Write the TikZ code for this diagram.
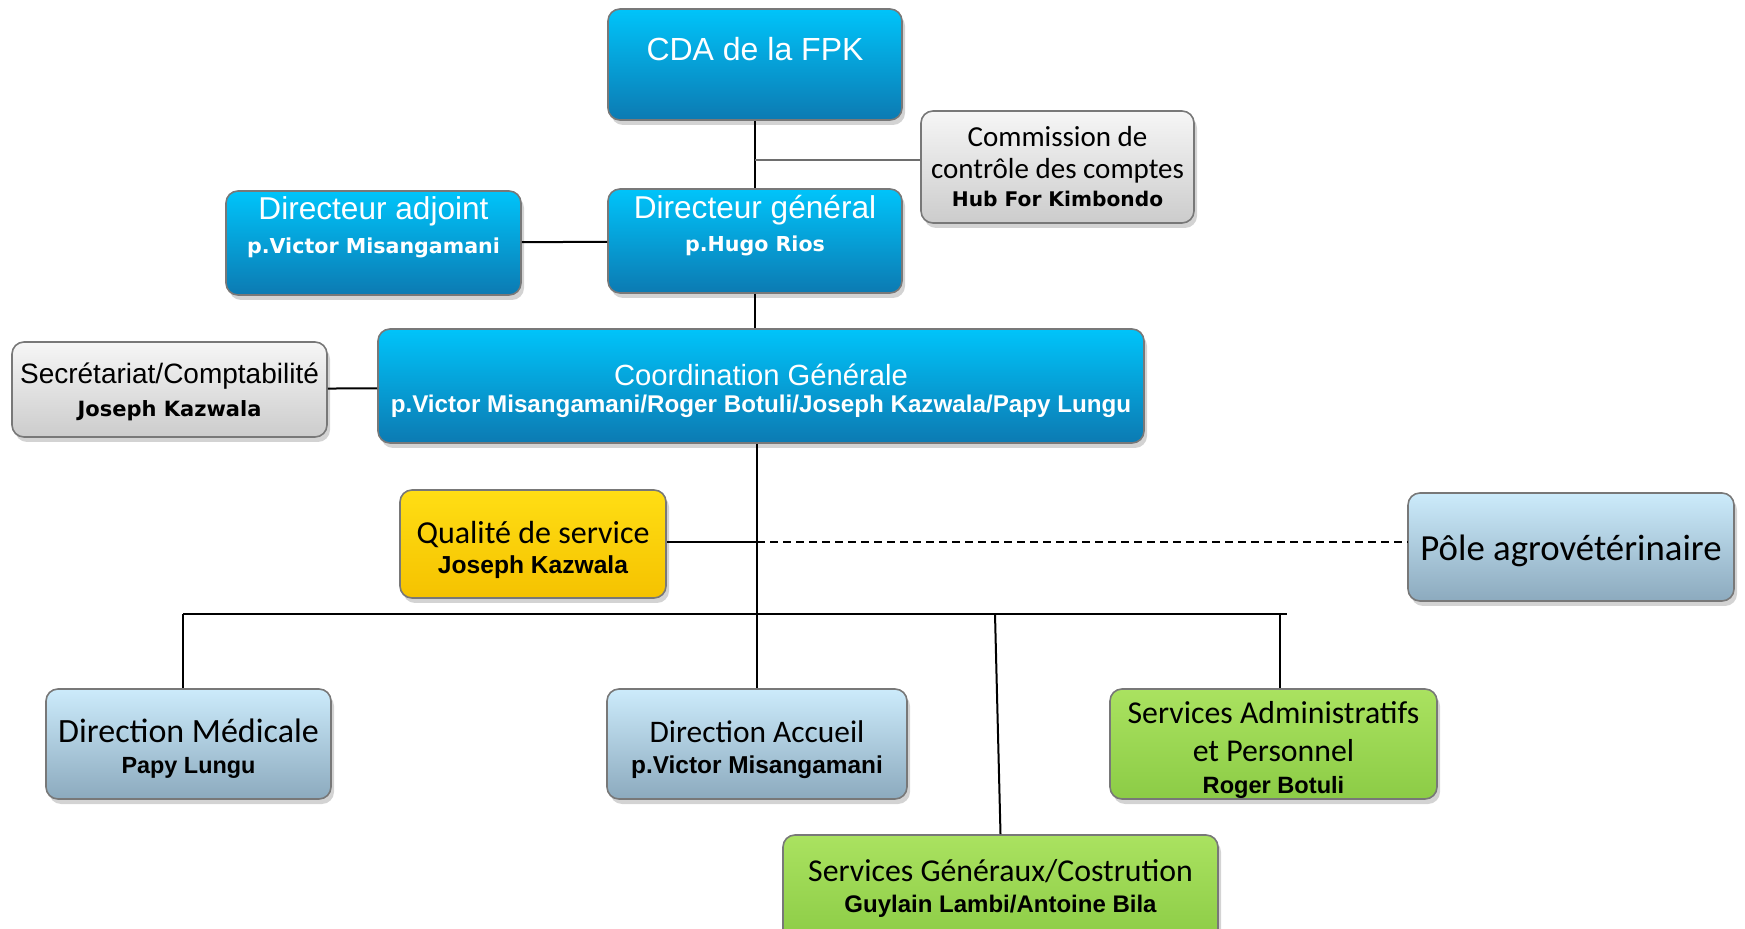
\documentclass[tikz,border=0pt]{standalone}
\usepackage{fontspec}
\setmainfont{Carlito}
\newfontfamily\arialf{Liberation Sans}
\newfontfamily\blackf{DejaVu Sans}
\usetikzlibrary{shadows}

\definecolor{bluetop}{RGB}{0,196,250}
\definecolor{bluebot}{RGB}{12,122,178}
\definecolor{greytop}{RGB}{246,246,246}
\definecolor{greybot}{RGB}{204,204,204}
\definecolor{yellowtop}{RGB}{255,222,20}
\definecolor{yellowbot}{RGB}{245,194,0}
\definecolor{lighttop}{RGB}{204,235,251}
\definecolor{lightbot}{RGB}{140,170,190}
\definecolor{greentop}{RGB}{170,226,96}
\definecolor{greenbot}{RGB}{140,204,70}
\definecolor{boxline}{RGB}{120,120,120}
\definecolor{linegrey}{RGB}{110,110,110}

% names under the titles
\newcommand\heavy[2][10.3]{{\blackf\bfseries\fontsize{#1}{#1}\selectfont #2}}
\newcommand\boldname[2][12.1]{{\arialf\bfseries\fontsize{#1}{#1}\selectfont #2}}
% taller first line pushes the text a little down
\newcommand\sink[1]{\rule{0pt}{#1}}

\tikzset{
  orgbox/.style={draw=boxline, line width=0.8pt, rounded corners=6pt, align=center, inner sep=2pt,
    drop shadow={opacity=0.35, shadow xshift=1.5pt, shadow yshift=-2.5pt}},
  bluebox/.style={orgbox, top color=bluetop, bottom color=bluebot, text=white},
  greybox/.style={orgbox, top color=greytop, bottom color=greybot},
  yellowbox/.style={orgbox, top color=yellowtop, bottom color=yellowbot},
  lightbox/.style={orgbox, top color=lighttop, bottom color=lightbot},
  greenbox/.style={orgbox, top color=greentop, bottom color=greenbot},
  link/.style={line width=1pt},
}

\begin{document}
\begin{tikzpicture}[x=0.5pt, y=-0.5pt]
\useasboundingbox (0,0) rectangle (1745,929);

% top of the chart
\node[bluebox, minimum width=147pt, minimum height=55.5pt, text depth=15.5pt,
  font=\arialf\fontsize{16}{19}\selectfont] (cda) at (755,64.5) {CDA de la FPK};
\node[greybox, minimum width=136.5pt, minimum height=56pt,
  font=\fontsize{14.5}{16}\selectfont] (cc) at (1057.5,167)
  {Commission de\\contrôle des comptes\\[-2pt]\heavy[10.1]{Hub For Kimbondo}};
\node[bluebox, minimum width=147pt, minimum height=52pt, text depth=18pt,
  font=\arialf\fontsize{15.8}{16.6}\selectfont] (dg) at (755,241)
  {Directeur général\\\heavy{p.Hugo Rios}};
\node[bluebox, minimum width=147.5pt, minimum height=52pt, text depth=18pt,
  font=\arialf\fontsize{15.8}{16.6}\selectfont] (da) at (373.5,243)
  {Directeur adjoint\\\heavy{p.Victor Misangamani}};

% coordination
\node[bluebox, minimum width=383pt, minimum height=57pt,
  font=\arialf\fontsize{14.6}{13.6}\selectfont] (coord) at (761,386)
  {\sink{15.8pt}Coordination Générale\\\boldname{p.Victor Misangamani/Roger Botuli/Joseph Kazwala/Papy Lungu}};
\node[greybox, minimum width=157.5pt, minimum height=47.5pt,
  font=\arialf\fontsize{14}{16.3}\selectfont] (secr) at (169.5,389.5)
  {\sink{12.6pt}Secrétariat/Comptabilité\\\heavy[10.5]{Joseph Kazwala}};
\node[yellowbox, minimum width=133pt, minimum height=54pt,
  font=\fontsize{16}{15}\selectfont] (qual) at (533,544)
  {\sink{16.8pt}Qualité de service\\\boldname[12.3]{Joseph Kazwala}};
\node[lightbox, minimum width=163pt, minimum height=54pt,
  font=\fontsize{18.4}{20}\selectfont] (pole) at (1571,547) {\sink{16.3pt}Pôle agrovétérinaire};

% directions and services
\node[lightbox, minimum width=142.5pt, minimum height=55pt,
  font=\fontsize{17}{15.5}\selectfont] (med) at (188.5,744)
  {\sink{16.3pt}Direction Médicale\\\boldname[11.7]{Papy Lungu}};
\node[lightbox, minimum width=150pt, minimum height=55pt,
  font=\fontsize{15.7}{15.5}\selectfont] (acc) at (757,744)
  {\sink{16.6pt}Direction Accueil\\\boldname[12.2]{p.Victor Misangamani}};
\node[greenbox, minimum width=163.5pt, minimum height=55pt, inner ysep=0pt,
  font=\fontsize{15.9}{19}\selectfont] (adm) at (1273.5,744)
  {\sink{16.7pt}Services Administratifs\\et Personnel\\[-3pt]\boldname[11.8]{Roger Botuli}};
\node[greenbox, minimum width=217.5pt, minimum height=53pt,
  font=\fontsize{15.9}{15.5}\selectfont] (gen) at (1000.5,888)
  {Services Généraux/Costrution\\\boldname[12]{Guylain Lambi/Antoine Bila}};

% links
\draw[link] (cda) -- (dg);
\draw[link, draw=linegrey] ([yshift=3.5pt]cc.west) -- ([yshift=3.5pt]cc.west -| cda.south);
\draw[link] (da) -- (dg);
\draw[link] (dg) -- (dg |- coord.north);
\draw[link] (secr) -- (coord);
\draw[link] (coord.south -| acc.north) -- (acc.north);
\coordinate (qj) at ([yshift=1pt]qual.east -| acc.north);
\draw[link] ([yshift=1pt]qual.east) -- (qj);
\draw[line width=0.75pt, dash pattern=on 4pt off 2.5pt] (qj) -- (qj -| pole.west);

% bus to the directions
\coordinate (busL) at (183,614);
\coordinate (busR) at (1287,614);
\coordinate (busG) at (995,614);
\coordinate (busA) at (1280,614);
\draw[link] (busL) -- (busR);
\draw[link] (busL) -- (busL |- med.north);
\draw[link] (busA) -- (busA |- adm.north);
\draw[link] (busG) -- (gen.north);
\end{tikzpicture}
\end{document}
